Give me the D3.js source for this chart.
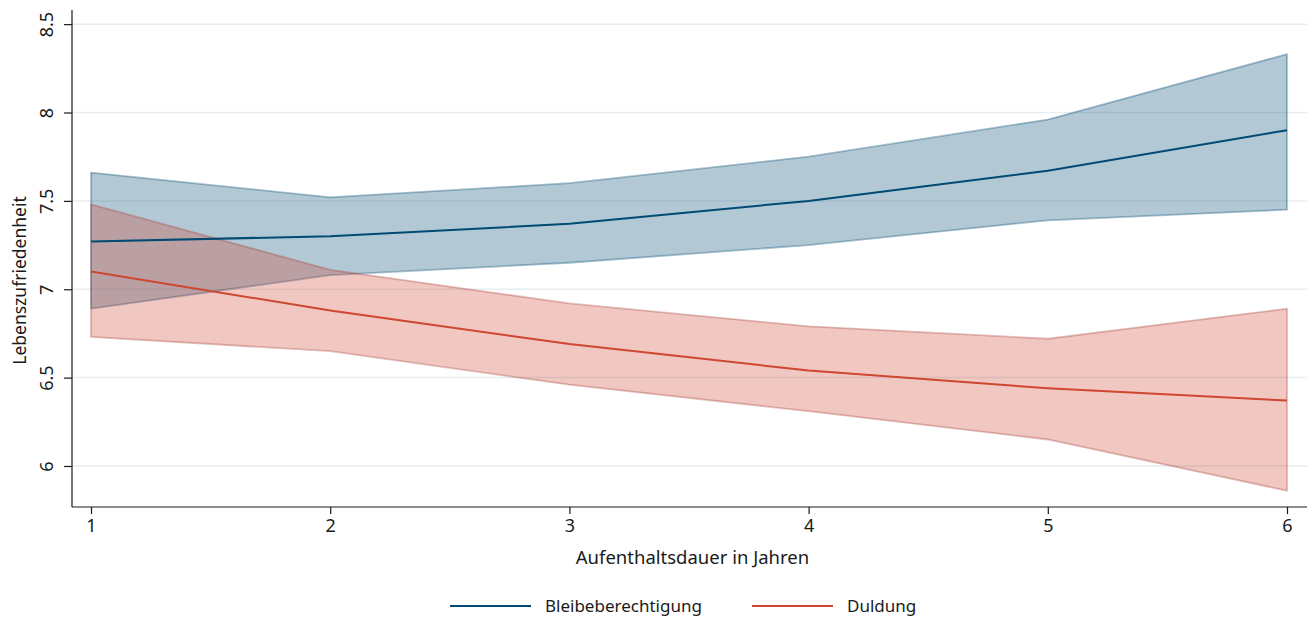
<!DOCTYPE html>
<html>
<head>
<meta charset="utf-8">
<script src="https://cdn.jsdelivr.net/npm/d3@7"></script>
<style>
  html, body { margin: 0; padding: 0; background: #fff; }
  svg { display: block; font-family: "Noto Sans", "Open Sans", sans-serif; }
</style>
</head>
<body>
<svg id="chart" width="1309" height="619"></svg>
<script>
// Aufenthaltsdauer (Jahre) und vorhergesagte Lebenszufriedenheit mit Konfidenzintervallen
const years = [1, 2, 3, 4, 5, 6];

const bleibeMean  = [7.27, 7.30, 7.37, 7.50, 7.67, 7.90];
const bleibeUpper = [7.66, 7.52, 7.60, 7.75, 7.96, 8.33];
const bleibeLower = [6.89, 7.08, 7.15, 7.25, 7.39, 7.45];

const duldMean  = [7.10, 6.88, 6.69, 6.54, 6.44, 6.37];
const duldUpper = [7.48, 7.11, 6.92, 6.79, 6.72, 6.89];
const duldLower = [6.73, 6.65, 6.46, 6.31, 6.15, 5.86];

const yTicks = [6, 6.5, 7, 7.5, 8, 8.5];
const seriesNames = ["Bleibeberechtigung", "Duldung"];
const seriesColors = ["#004a73", "#cd4731"];
const bandEdgeColors = ["#004a73", "#a8433a"];

const FONT = '"Noto Sans", "Open Sans", sans-serif';
const svg = d3.select("#chart");

const x = d3.scaleLinear().domain([1, 6]).range([91, 1287]);
const y = d3.scaleLinear().domain([5.768, 8.58]).range([507, 10]);
const xLeft = 72, xRight = 1307;

// Horizontale Gitterlinien
svg.append("g")
  .selectAll("line")
  .data(yTicks)
  .join("line")
  .attr("x1", xLeft).attr("x2", xRight)
  .attr("y1", d => y(d)).attr("y2", d => y(d))
  .attr("stroke", "#e6eef1")
  .attr("stroke-width", 1.5);

const series = [
  { name: seriesNames[0], color: seriesColors[0], edge: bandEdgeColors[0], mean: bleibeMean, lo: bleibeLower, hi: bleibeUpper },
  { name: seriesNames[1], color: seriesColors[1], edge: bandEdgeColors[1], mean: duldMean, lo: duldLower, hi: duldUpper }
];

const area = d3.area()
  .x((d, i) => x(years[i]))
  .y0(d => y(d[0]))
  .y1(d => y(d[1]));

const line = d3.line()
  .x((d, i) => x(years[i]))
  .y(d => y(d));

// Konfidenzbänder
series.forEach(s => {
  const band = s.lo.map((v, i) => [v, s.hi[i]]);
  svg.append("path")
    .datum(band)
    .attr("d", area)
    .attr("fill", s.color)
    .attr("fill-opacity", 0.3)
    .attr("stroke", s.edge)
    .attr("stroke-opacity", 0.34)
    .attr("stroke-width", 1.8)
    .attr("stroke-linejoin", "round");
});

// Mittelwertlinien
series.forEach(s => {
  svg.append("path")
    .datum(s.mean)
    .attr("d", line)
    .attr("fill", "none")
    .attr("stroke", s.color)
    .attr("stroke-width", 2);
});

// Achsen
const yAxis = svg.append("g")
  .attr("transform", `translate(${xLeft},0)`)
  .call(d3.axisLeft(y).tickValues(yTicks).tickSize(8).tickFormat(d3.format("")))
  .attr("font-family", FONT);
yAxis.select(".domain").attr("d", `M0,10V507`).attr("stroke", "#1a1a1a").attr("stroke-width", 1.2);
yAxis.selectAll(".tick line").attr("stroke", "#1a1a1a").attr("stroke-width", 1.2);
yAxis.selectAll(".tick text")
  .attr("font-size", 18)
  .attr("fill", "#1a1a1a")
  .attr("transform", "rotate(-90)")
  .attr("text-anchor", "middle")
  .attr("x", 0)
  .attr("y", -19)
  .attr("dy", "0");

const xAxis = svg.append("g")
  .attr("transform", "translate(0,507)")
  .call(d3.axisBottom(x).tickValues(years).tickSize(7).tickPadding(5).tickFormat(d3.format("d")))
  .attr("font-family", FONT);
xAxis.select(".domain").attr("d", `M${xLeft},0H${xRight}`).attr("stroke", "#1a1a1a").attr("stroke-width", 1.2);
xAxis.selectAll(".tick line").attr("stroke", "#1a1a1a").attr("stroke-width", 1.2);
xAxis.selectAll(".tick text").attr("font-size", 18).attr("fill", "#1a1a1a");

// Achsentitel
svg.append("text")
  .attr("x", (xLeft + xRight) / 2 + 3)
  .attr("y", 564)
  .attr("text-anchor", "middle")
  .attr("font-size", 18.5)
  .attr("fill", "#1a1a1a")
  .text("Aufenthaltsdauer in Jahren");

svg.append("text")
  .attr("transform", `translate(26,${(10 + 507) / 2 + 22}) rotate(-90)`)
  .attr("text-anchor", "middle")
  .attr("font-size", 17.5)
  .attr("fill", "#1a1a1a")
  .text("Lebenszufriedenheit");

// Legende
const legendItems = [
  { name: seriesNames[0], color: seriesColors[0], x: 450 },
  { name: seriesNames[1], color: seriesColors[1], x: 752 }
];
const lg = svg.append("g");
legendItems.forEach(it => {
  lg.append("line")
    .attr("x1", it.x).attr("x2", it.x + 81)
    .attr("y1", 606).attr("y2", 606)
    .attr("stroke", it.color).attr("stroke-width", 2);
  lg.append("text")
    .attr("x", it.x + 95)
    .attr("y", 612)
    .attr("font-size", 17)
    .attr("fill", "#1a1a1a")
    .text(it.name);
});
</script>
</body>
</html>
